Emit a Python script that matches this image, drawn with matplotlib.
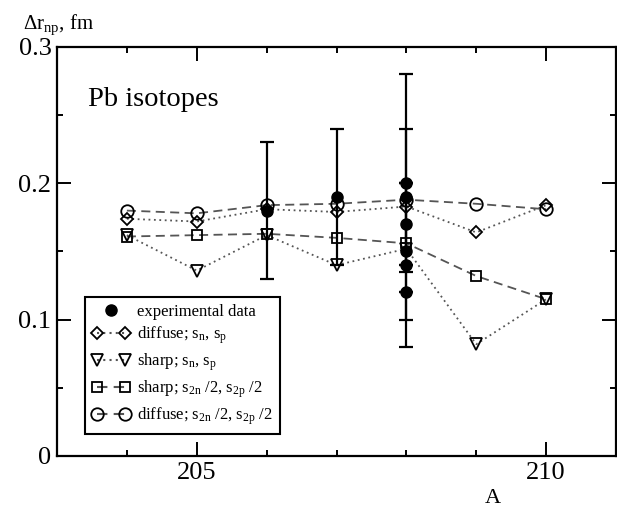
import matplotlib
matplotlib.use("Agg")
import matplotlib.pyplot as plt
from matplotlib.lines import Line2D
from matplotlib.legend_handler import HandlerLine2D
from matplotlib.ticker import MultipleLocator

plt.rcParams["font.family"] = ["Liberation Serif", "DejaVu Serif"]
plt.rcParams["mathtext.fontset"] = "custom"
plt.rcParams["mathtext.rm"] = "Liberation Serif"
plt.rcParams["mathtext.it"] = "Liberation Serif:italic"

# mass number
A = [204, 205, 206, 207, 208, 209, 210]

# model curves
diffuse_sn = [0.174, 0.172, 0.181, 0.179, 0.183, 0.164, 0.184]
sharp_sn = [0.162, 0.136, 0.162, 0.140, 0.152, 0.082, 0.115]
sharp_s2n = [0.161, 0.162, 0.163, 0.160, 0.156, 0.132, 0.115]
diffuse_s2n = [0.180, 0.178, 0.184, 0.185, 0.188, 0.185, 0.181]

# experimental points (error bars where given)
exp_A = [206, 207, 208, 208, 208, 208, 208, 208]
exp_val = [0.18, 0.19, 0.20, 0.19, 0.17, 0.15, 0.14, 0.12]
exp_err_lo = [0.05, 0.05, 0.0, 0.055, 0.09, 0.05, 0.0, 0.0]
exp_err_hi = [0.05, 0.05, 0.0, 0.05, 0.11, 0.05, 0.0, 0.0]

labels = [
    "experimental data",
    r"diffuse; s$_\mathrm{n}$, s$_\mathrm{p}$",
    r"sharp; s$_\mathrm{n}$, s$_\mathrm{p}$",
    r"sharp; s$_\mathrm{2n}$ /2, s$_\mathrm{2p}$ /2",
    r"diffuse; s$_\mathrm{2n}$ /2, s$_\mathrm{2p}$ /2",
]

fig = plt.figure(figsize=(6.17, 5.09), dpi=100)
ax = fig.add_axes([57 / 617, 53 / 509, 559 / 617, 409 / 509])

gray = "#555555"
dot = (0, (1, 2))
dash = (0, (5, 3))

ax.plot(A, diffuse_s2n, ls=dash, color=gray, lw=1.3, zorder=2)
ax.plot(A, sharp_s2n, ls=dash, color=gray, lw=1.3, zorder=2)
ax.plot(A, diffuse_sn, ls=dot, color=gray, lw=1.3, zorder=2)
ax.plot(A, sharp_sn, ls=dot, color=gray, lw=1.3, zorder=2)

ax.errorbar(exp_A, exp_val, yerr=[exp_err_lo, exp_err_hi], fmt="o", color="k",
            ms=8, lw=1.6, capsize=5, capthick=1.6, zorder=3)

mk = dict(ls="none", mec="k", mfc="none", mew=1.3, zorder=4)
ax.plot(A, diffuse_sn, marker="D", ms=6.5, **mk)
ax.plot(A, sharp_sn, marker="v", ms=8.5, **mk)
ax.plot(A, sharp_s2n, marker="s", ms=7.5, **mk)
ax.plot(A, diffuse_s2n, marker="o", ms=9, **mk)

ax.set_xlim(203, 211)
ax.set_ylim(0, 0.3)
ax.xaxis.set_major_locator(MultipleLocator(5))
ax.xaxis.set_minor_locator(MultipleLocator(1))
ax.yaxis.set_major_locator(MultipleLocator(0.1))
ax.yaxis.set_minor_locator(MultipleLocator(0.05))
ax.set_xticks([205, 210], ["205", "210"])
ax.set_yticks([0, 0.1, 0.2, 0.3], ["0", "0.1", "0.2", "0.3"])
ax.tick_params(which="both", direction="in", top=True, right=True, width=1.4,
               labelsize=19, pad=4)
ax.tick_params(which="major", length=10)
ax.tick_params(which="minor", length=4.5)
for s in ax.spines.values():
    s.set_linewidth(1.6)

ax.text(0.055, 0.855, "Pb isotopes", transform=ax.transAxes, fontsize=20.5)

handles = [
    Line2D([], [], ls="none", marker="o", color="k", ms=8),
    Line2D([], [], ls=dot, color=gray, marker="D", ms=6.5, mec="k", mfc="none", mew=1.3),
    Line2D([], [], ls=dot, color=gray, marker="v", ms=8.5, mec="k", mfc="none", mew=1.3),
    Line2D([], [], ls=dash, color=gray, marker="s", ms=7.5, mec="k", mfc="none", mew=1.3),
    Line2D([], [], ls=dash, color=gray, marker="o", ms=9, mec="k", mfc="none", mew=1.3),
]
leg = ax.legend(handles, labels, loc="lower left", bbox_to_anchor=(0.05, 0.054),
                borderaxespad=0, fontsize=12, numpoints=2, handlelength=2.3,
                handletextpad=0.45, labelspacing=0.32, borderpad=0.4,
                fancybox=False, framealpha=1, edgecolor="k",
                handler_map={handles[0]: HandlerLine2D(numpoints=1)})
leg.get_frame().set_linewidth(1.5)

fig.text(23 / 617, 1 - 29 / 509, r"$\Delta$r$_\mathrm{np}$, fm", fontsize=15)
fig.text(493 / 617, 1 - 503 / 509, "A", fontsize=16, ha="center")

fig.savefig("out.png", dpi=100)
